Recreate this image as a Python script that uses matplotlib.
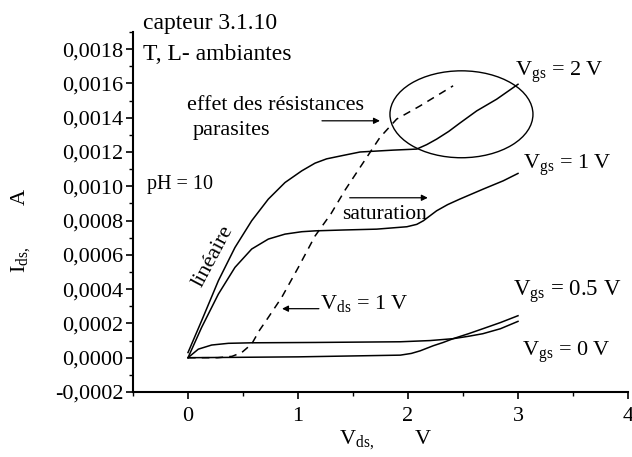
import matplotlib
matplotlib.use("Agg")
import matplotlib.pyplot as plt
from matplotlib.ticker import MultipleLocator, FuncFormatter
from matplotlib.patches import Ellipse

plt.rcParams['font.family'] = ['Liberation Serif', 'DejaVu Serif']
plt.rcParams['mathtext.fontset'] = 'custom'
plt.rcParams['mathtext.rm'] = 'Liberation Serif'
plt.rcParams['mathtext.it'] = 'Liberation Serif:italic'

# Vgs = 2 V
x_vg2 = [0.0, 0.124, 0.276, 0.427, 0.579, 0.73, 0.882, 1.034, 1.155, 1.26, 1.41, 1.564, 1.866, 2.079,
         2.17, 2.26, 2.37, 2.47, 2.625, 2.806, 3.0]
y_vg2 = [0.00003, 0.000216, 0.000449, 0.000643, 0.000799, 0.000925, 0.001022, 0.00109, 0.001135, 0.00116,
         0.00118, 0.0012, 0.001211, 0.001217, 0.001243, 0.001275, 0.00132, 0.001368, 0.00144, 0.001508, 0.001595]
# Vgs = 1 V
x_vg1 = [0.0, 0.124, 0.276, 0.427, 0.579, 0.73, 0.882, 1.034, 1.155, 1.41, 1.715, 1.99, 2.08, 2.14,
         2.2, 2.26, 2.36, 2.47, 2.685, 2.866, 3.0]
y_vg1 = [0.0, 0.000177, 0.000371, 0.000527, 0.000634, 0.000692, 0.000721, 0.000735, 0.00074, 0.000745,
         0.00075, 0.000764, 0.000778, 0.000799, 0.000828, 0.000857, 0.000893, 0.000925, 0.000984, 0.001032, 0.001075]
# Vgs = 0.5 V
x_vg05 = [0.0, 0.094, 0.215, 0.367, 0.579, 1.155, 1.93, 2.2, 2.41, 2.55, 2.68, 2.84, 3.0]
y_vg05 = [0.0, 0.00005, 0.000074, 0.000084, 0.000087, 0.000089, 0.000093, 0.0001, 0.000111, 0.000125,
          0.00014, 0.000169, 0.000212]
# Vgs = 0 V
x_vg0 = [0.0, 1.0, 1.93, 2.03, 2.11, 2.23, 2.32, 2.41, 2.55, 2.68, 2.84, 3.0]
y_vg0 = [0.0, 0.000005, 0.000015, 0.000025, 0.00004, 0.00007, 0.000089, 0.000111, 0.00014, 0.000169,
         0.000205, 0.000245]
# Vds = 1 V locus (dashed)
x_vds = [0.0, 0.27, 0.4, 0.488, 0.579, 0.65, 0.73, 0.852, 1.003, 1.155, 1.3, 1.43, 1.564, 1.745, 1.897,
         2.11, 2.41]
y_vds = [0.0, 0.0, 0.000008, 0.00003, 0.00008, 0.00016, 0.000235, 0.000352, 0.000527, 0.00071, 0.00084,
         0.00098, 0.00111, 0.001285, 0.001392, 0.001469, 0.001586]

x_ticks = [0, 1, 2, 3, 4]
y_ticks = [-0.0002, 0.0, 0.0002, 0.0004, 0.0006, 0.0008, 0.0010, 0.0012, 0.0014, 0.0016, 0.0018]

fig = plt.figure(figsize=(6.32, 4.57), dpi=100)
ax = fig.add_axes([133/632, 1-392/457, (628-133)/632, (392-32)/457])

lw = 1.1
ax.plot(x_vg2, y_vg2, color='black', lw=lw, solid_joinstyle='round')
ax.plot(x_vg1, y_vg1, color='black', lw=lw, solid_joinstyle='round')
ax.plot(x_vg05, y_vg05, color='black', lw=lw, solid_joinstyle='round')
ax.plot(x_vg0, y_vg0, color='black', lw=lw, solid_joinstyle='round')
ax.plot(x_vds, y_vds, color='black', lw=lw, linestyle=(0, (5, 4)))

ax.add_patch(Ellipse((2.486, 0.00142), 1.3, 0.000507, fill=False, edgecolor='black', lw=1.0))

ax.set_xlim(-0.5, 4)
ax.set_ylim(-0.0002, 0.0019)
ax.set_xticks(x_ticks)
ax.set_yticks(y_ticks)
ax.xaxis.set_minor_locator(MultipleLocator(0.5))
ax.yaxis.set_minor_locator(MultipleLocator(0.0001))
ax.xaxis.set_major_formatter(FuncFormatter(lambda v, p: f"{v:.0f}"))
ax.yaxis.set_major_formatter(FuncFormatter(lambda v, p: f"{v:.4f}".replace('.', ',').replace('\u2212', '-')))
for s in ['top', 'right']:
    ax.spines[s].set_visible(False)
for s in ['left', 'bottom']:
    ax.spines[s].set_linewidth(1.5)
ax.tick_params(which='major', direction='out', length=5, width=1.2, labelsize=16, pad=2)
ax.tick_params(which='minor', direction='out', length=3, width=1.0)
ax.tick_params(axis='x', pad=6)

fs = 16
arrow = dict(arrowstyle='-|>', color='black', lw=0.9, mutation_scale=9, shrinkA=0, shrinkB=0)

fig.text(143/632, 1-24/457, 'capteur 3.1.10', fontsize=17, va='center', ha='left')
fig.text(143/632, 1-55/457, 'T, L- ambiantes', fontsize=17, va='center', ha='left')
fig.text(187/632, 1-105/457, 'effet des résistances', fontsize=16, va='center', ha='left')
fig.text(193/632, 1-131/457, 'parasites', fontsize=16, va='center', ha='left')
fig.text(147/632, 1-185/457, 'pH = 10', fontsize=14.5, va='center', ha='left')
fig.text(213/632, 1-256/457, 'linéaire', fontsize=16, va='center', ha='center', rotation=62,
         rotation_mode='anchor')
fig.text(342/632, 1-214/457, 'saturation', fontsize=15.5, va='center', ha='left')

ax.annotate('', xy=(1.745, 0.001382), xytext=(1.218, 0.001382), arrowprops=arrow)
ax.annotate('', xy=(2.18, 0.000933), xytext=(1.47, 0.000933), arrowprops=arrow)
ax.annotate('', xy=(0.855, 0.000286), xytext=(1.19, 0.000286), arrowprops=arrow)

fig.text(320/632, 1-303/457, r'V$_{\mathrm{ds}}$ = 1 V', fontsize=fs, va='center', ha='left')
fig.text(515/632, 1-72/457, r'V$_{\mathrm{gs}}$ = 2 V', fontsize=fs, va='center', ha='left')
fig.text(523/632, 1-165/457, r'V$_{\mathrm{gs}}$ = 1 V', fontsize=fs, va='center', ha='left')
fig.text(513/632, 1-292/457, r'V$_{\mathrm{gs}}$ = 0.5 V', fontsize=16.5, va='center', ha='left')
fig.text(522/632, 1-352/457, r'V$_{\mathrm{gs}}$ = 0 V', fontsize=fs, va='center', ha='left')

fig.text(386/632, 1-440/457, r'V$_{\mathrm{ds,}}$       V', fontsize=fs, va='center', ha='center')
fig.text(21/632, 1-231/457, r'I$_{\mathrm{ds,}}$       A', fontsize=fs, va='center', ha='center', rotation=90)

fig.savefig('out.png', dpi=100)
